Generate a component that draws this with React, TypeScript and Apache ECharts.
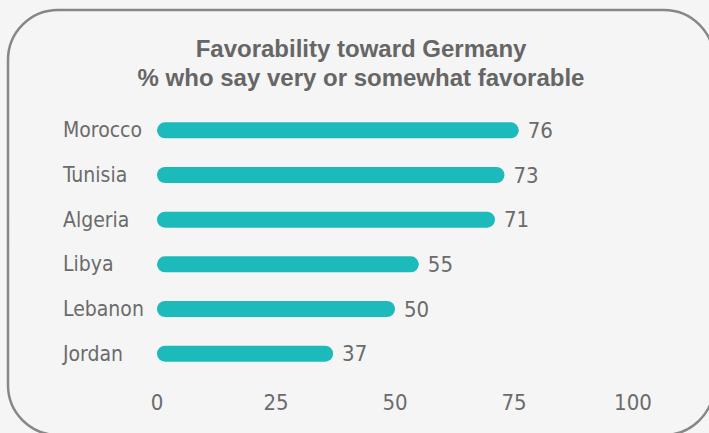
import React, { useEffect, useRef } from "react";
import * as echarts from "echarts";

const categories = ["Morocco", "Tunisia", "Algeria", "Libya", "Lebanon", "Jordan"];
const values = [76, 73, 71, 55, 50, 37];
const xTicks = [0, 25, 50, 75, 100];
const titleLines = ["Favorability toward Germany", "% who say very or somewhat favorable"];

const NARROW = "'Liberation Sans Narrow', 'DejaVu Sans Condensed', sans-serif";
const TEXT = "#6b6b6b";

export default function App() {
  const ref = useRef<HTMLDivElement>(null);
  useEffect(() => {
    if (!ref.current) return;
    const chart = echarts.init(ref.current, null, { renderer: "svg" });
    chart.setOption({
      animation: false,
      backgroundColor: "#f5f5f5",
      title: {
        text: titleLines.join("\n"),
        left: 356,
        top: 29,
        textAlign: "center",
        textStyle: {
          fontFamily: "'Liberation Sans', Arial, sans-serif",
          fontWeight: "bold",
          fontSize: 24,
          lineHeight: 29,
          color: "#666666",
        },
      },
      graphic: [
        {
          type: "rect",
          shape: { x: 8, y: 10, width: 706, height: 425, r: 50 },
          style: { fill: "none", stroke: "#878787", lineWidth: 2.5 },
          silent: true,
        },
      ],
      grid: { left: 157, right: 76, top: 108, bottom: 57, containLabel: false },
      xAxis: {
        type: "value",
        min: 0,
        max: 100,
        interval: 25,
        axisLine: { show: false },
        axisTick: { show: false },
        splitLine: { show: false },
        axisLabel: {
          margin: 15,
          fontFamily: NARROW,
          fontSize: 22,
          color: TEXT,
          customValues: xTicks,
        },
      },
      yAxis: {
        type: "category",
        data: categories,
        inverse: true,
        axisLine: { show: false },
        axisTick: { show: false },
        axisLabel: {
          align: "left",
          margin: 94,
          fontFamily: NARROW,
          fontSize: 21,
          color: TEXT,
        },
      },
      series: [
        {
          type: "bar",
          data: values,
          barWidth: 16,
          itemStyle: { color: "#1dbabc", borderRadius: 8 },
          label: {
            show: true,
            position: "right",
            distance: 9,
            fontFamily: NARROW,
            fontSize: 22,
            color: TEXT,
          },
        },
      ],
    });
    return () => chart.dispose();
  }, []);
  return (
    <div
      ref={ref}
      style={{ position: "fixed", left: 0, top: 0, width: 709, height: 433 }}
    />
  );
}
